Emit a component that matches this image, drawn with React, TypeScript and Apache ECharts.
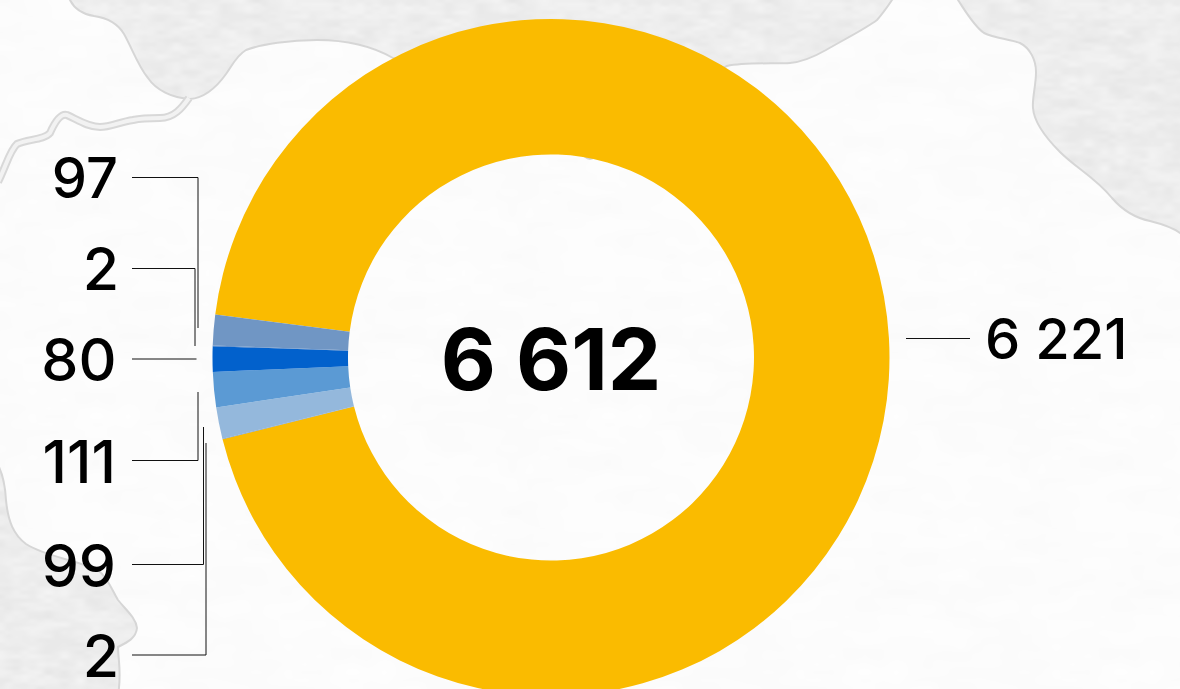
import React, { useEffect, useRef } from "react";
import * as echarts from "echarts";

// Data, clockwise from the top-left edge of the large slice
const sliceValues = [6221, 2, 99, 111, 80, 2, 97];
const sliceColors = ["#fabb00", "#5c86bf", "#94b8dc", "#5b9ad4", "#0261cc", "#3f78c0", "#7096c4"];
const totalLabel = "6 612";
const bigLabel = "6 221";
const leftLabels = ["97", "2", "80", "111", "99", "2"];

// Layout of the annotations
const labelX = [118, 119, 116.5, 116, 116, 119];
const labelY = [178, 268, 359, 461, 565, 655];
const leaders: number[][][] = [
  [[132, 177.5], [198, 177.5], [198, 328]],
  [[132, 268.5], [195, 268.5], [195, 346]],
  [[132, 359], [196.5, 359]],
  [[132, 460.5], [198, 460.5], [198, 392]],
  [[132, 564.5], [203.5, 564.5], [203.5, 427]],
  [[132, 655], [206, 655], [206, 443]],
  [[906, 338.5], [970, 338.5]],
];

const landTopD =
  "M66 -5L70 0C74 8 82 14 94 16C108 18 118 24 124 34C132 48 138 66 148 78C156 90 172 98 190 99C204 98 216 88 226 74C232 66 236 56 246 50C262 44 290 40 317 40C345 40 372 46 393 58L550 100L568 120Q590 198 612 120L727 66C745 62 775 64 790 63C802 62 812 58 826 50C845 39 865 29 877 20C884 12 888 6 892 0L896 -5Z";
const landRightD =
  "M955 -5L958 0C966 12 974 26 984 33C994 38 1008 39 1020 43C1030 48 1036 60 1036 72C1036 86 1032 98 1033 108C1034 122 1046 138 1060 152C1076 168 1096 178 1112 198C1124 212 1136 218 1150 221C1162 224 1172 227 1180 233L1190 240L1190 -5Z";
const landBottomD =
  "M-5 460C2 470 5 482 6 500C8 522 14 535 26 544C44 556 76 560 98 570C108 578 112 590 118 600C126 610 136 618 137 628C136 638 128 642 118 647C118 660 122 672 118 695L-5 695Z";
const riverD =
  "M189 98C182 108 174 118 160 118C150 118 142 118 133 120C120 122 110 127 100 127C88 127 78 120 67 115C60 113 54 124 50 133C44 140 28 139 17 144C10 150 6 166 -2 182";

echarts.graphic.registerShape("landTop", echarts.graphic.extendPath(landTopD, {}) as any);
echarts.graphic.registerShape("landRight", echarts.graphic.extendPath(landRightD, {}) as any);
echarts.graphic.registerShape("landBottom", echarts.graphic.extendPath(landBottomD, {}) as any);
echarts.graphic.registerShape("river", echarts.graphic.extendPath(riverD, {}) as any);

function noisePattern(lo: number, hi: number, sx: number, sy: number): string {
  const size = 256;
  const cv = document.createElement("canvas");
  cv.width = size;
  cv.height = size;
  const ctx = cv.getContext("2d")!;
  const img = ctx.createImageData(size, size);
  const hash = (x: number, y: number) => {
    const s = Math.sin(x * 127.1 + y * 311.7) * 43758.5453;
    return s - Math.floor(s);
  };
  const smooth = (t: number) => t * t * (3 - 2 * t);
  const layer = (x: number, y: number, px: number, py: number) => {
    const nx = size / px;
    const ny = size / py;
    const gx = x / px;
    const gy = y / py;
    const ix = Math.floor(gx);
    const iy = Math.floor(gy);
    const fx = smooth(gx - ix);
    const fy = smooth(gy - iy);
    const h = (a: number, b: number) => hash(((a % nx) + nx) % nx, ((b % ny) + ny) % ny);
    const a = h(ix, iy) * (1 - fx) + h(ix + 1, iy) * fx;
    const b = h(ix, iy + 1) * (1 - fx) + h(ix + 1, iy + 1) * fx;
    return a * (1 - fy) + b * fy;
  };
  for (let y = 0; y < size; y++) {
    for (let x = 0; x < size; x++) {
      const n = 0.6 * layer(x, y, sx * 2, sy * 2) + 0.4 * layer(x, y, sx, sy);
      const v = Math.round(lo + (hi - lo) * n);
      const i = (y * size + x) * 4;
      img.data[i] = v;
      img.data[i + 1] = v;
      img.data[i + 2] = v;
      img.data[i + 3] = 255;
    }
  }
  ctx.putImageData(img, 0, 0);
  return cv.toDataURL();
}

export default function App() {
  const ref = useRef<HTMLDivElement>(null);
  useEffect(() => {
    const chart = echarts.init(ref.current!, undefined, { renderer: "svg" });
    const landFill: any = {
      image: noisePattern(230, 244, 8, 4),
      repeat: "repeat",
      imageWidth: 256,
      imageHeight: 256,
    };
    const paperFill: any = {
      image: noisePattern(250, 254, 16, 8),
      repeat: "repeat",
      imageWidth: 256,
      imageHeight: 256,
    };
    const font = 'Inter, "Liberation Sans", Arial, sans-serif';
    const landStyle = { fill: landFill, stroke: "#d6d6d6", lineWidth: 2 };
    chart.setOption({
      animation: false,
      backgroundColor: "#fcfcfc",
      graphic: [
        { type: "rect", silent: true, z: -10, shape: { x: 0, y: 0, width: 1180, height: 689 }, style: { fill: paperFill } },
        { type: "landTop", silent: true, z: -5, style: landStyle },
        { type: "landRight", silent: true, z: -5, style: landStyle },
        { type: "landBottom", silent: true, z: -5, style: landStyle },
        { type: "river", silent: true, z: -4, style: { fill: "none", stroke: "#d8d8d8", lineWidth: 8 } },
        { type: "river", silent: true, z: -4, style: { fill: "none", stroke: "#f2f2f2", lineWidth: 4 } },
        ...leaders.map((points) => ({
          type: "polyline",
          silent: true,
          z: 5,
          shape: { points },
          style: { fill: "none", stroke: "#111111", lineWidth: 1 },
        })),
        ...leftLabels.map((text, i) => ({
          type: "text",
          silent: true,
          z: 6,
          x: labelX[i],
          y: labelY[i],
          style: { text, font: `500 ${i === 0 ? 56 : 59}px ${font}`, lineHeight: 44, fill: "#000", align: "right", verticalAlign: "middle" },
        })),
        {
          type: "text",
          silent: true,
          z: 6,
          x: 985,
          y: 339,
          style: { text: bigLabel, font: `500 56px ${font}`, fill: "#000", align: "left", verticalAlign: "middle" },
        },
        {
          type: "text",
          silent: true,
          z: 6,
          x: 551,
          y: 359,
          style: { text: totalLabel, font: `bold 85px ${font}`, fill: "#000", align: "center", verticalAlign: "middle" },
        },
      ],
      series: [
        {
          type: "pie",
          silent: true,
          center: [551, 357.5],
          radius: [203, 338.5],
          startAngle: 172.7,
          clockwise: true,
          avoidLabelOverlap: false,
          label: { show: false },
          labelLine: { show: false },
          data: sliceValues.map((value, i) => ({ value, itemStyle: { color: sliceColors[i] } })),
        },
      ],
    });
    return () => chart.dispose();
  }, []);
  return <div ref={ref} style={{ position: "fixed", left: 0, top: 0, width: 1180, height: 689 }} />;
}
